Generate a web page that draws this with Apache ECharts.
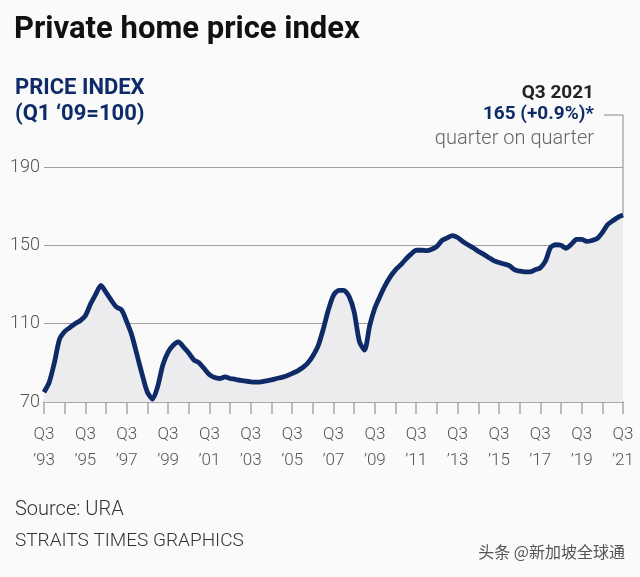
<!DOCTYPE html>
<html>
<head>
<meta charset="utf-8">
<script src="https://cdn.jsdelivr.net/npm/echarts@6/dist/echarts.min.js"></script>
<style>
html,body{margin:0;padding:0;background:#fafafa;}
#c{width:640px;height:577px;}
</style>
</head>
<body>
<div id="c"></div>
<script>
// Quarterly categories Q3 1993 .. Q3 2021
var startYear = 1993, startQ = 3, nQuarters = 113;
var quarters = [];
(function(){
  var y = startYear, q = startQ;
  for (var i = 0; i < nQuarters; i++) {
    quarters.push('Q' + q + ' ' + y);
    q++; if (q > 4) { q = 1; y++; }
  }
})();

// Private home price index (Q1 '09 = 100)
var priceIndex = [
  75, 80, 90, 102, 106, 108, 110, 111.5, 114, 120,           // Q3'93 - Q4'95
  125, 129.5, 126, 122, 118.5, 117, 111, 104, 94, 84,        // Q1'96 - Q2'98
  75, 71.5, 78, 89, 95.5, 99, 100.7, 98, 95, 91.5,           // Q3'98 - Q4'00
  90, 87, 84, 82.5, 82, 82.8, 82, 81.6, 81, 80.6,            // Q1'01 - Q2'03
  80.3, 80.2, 80.3, 80.8, 81.3, 82, 82.6, 83.4, 84.6, 85.8,  // Q3'03 - Q4'05
  87.5, 89.8, 93.5, 98.5, 107, 117, 124.5, 127, 127, 124,    // Q1'06 - Q2'08
  116, 101, 96.5, 109, 118, 124, 129.5, 134, 137.5, 140,     // Q3'08 - Q4'10
  143, 145.5, 147.5, 147.5, 147.3, 148, 149.5, 152.5, 153.8, 155, // Q1'11 - Q2'13
  154, 152, 150.3, 148.8, 147, 145.5, 143.8, 142.2, 141.2, 140.5, // Q3'13 - Q4'15
  139.6, 137.6, 136.8, 136.5, 136.4, 137.5, 138.5, 142, 149, 150.3, // Q1'16 - Q2'18
  150, 148.5, 150.5, 153, 153, 152, 152.5, 153.5, 156.5, 160.5, // Q3'18 - Q4'20
  162.5, 164.3, 165.5                                         // Q1'21 - Q3'21
];

var yTicks = [70, 110, 150, 190];
var titleText = 'Private home price index';
var unitLine1 = 'PRICE INDEX';
var unitLine2 = '(Q1 \u201809=100)';
var noteLine1 = 'Q3 2021';
var noteLine2 = '165 (+0.9%)*';
var noteLine3 = 'quarter on quarter';
var sourceText = 'Source: URA';
var creditText = 'STRAITS TIMES GRAPHICS';
var watermark = '\u5934\u6761 @\u65b0\u52a0\u5761\u5168\u7403\u901a';

var navy = '#0e2b68';
var font = 'Roboto, "Noto Sans", sans-serif';

var chart = echarts.init(document.getElementById('c'), null, {renderer: 'canvas'});

function labelFor(cat) {
  var p = cat.split(' ');
  return p[0] + '\n\u2019' + p[1].slice(2);
}

var option = {
  backgroundColor: '#fafafa',
  animation: false,
  grid: {left: 44, right: 17, top: 167, bottom: 175, containLabel: false},
  xAxis: {
    type: 'category',
    data: quarters,
    boundaryGap: false,
    axisLine: {lineStyle: {color: '#a8a8a8', width: 2}},
    axisTick: {interval: 3, length: 12, lineStyle: {color: '#a8a8a8', width: 1.5}},
    axisLabel: {
      interval: 7, margin: 20, color: '#555', fontSize: 17, lineHeight: 26,
      fontFamily: font, fontWeight: 300,
      formatter: function (v) { return labelFor(v); }
    },
    splitLine: {show: false}
  },
  yAxis: {
    type: 'value',
    min: yTicks[0], max: yTicks[yTicks.length - 1], interval: 40,
    axisLine: {show: false},
    axisTick: {show: false},
    axisLabel: {margin: 4, color: '#555', fontSize: 18, fontFamily: font, fontWeight: 300},
    splitLine: {lineStyle: {color: '#a0a0a0', width: 1.2}}
  },
  series: [{
    type: 'line',
    data: priceIndex,
    smooth: 0.25,
    showSymbol: false,
    lineStyle: {color: navy, width: 4.8},
    areaStyle: {color: '#ececef', opacity: 1},
    z: 3
  }],
  graphic: [
    {type: 'text', left: 14, top: 15, style: {text: titleText, font: 'bold 31px ' + font, fill: '#111'}},
    {type: 'text', left: 15, top: 77, style: {text: unitLine1, font: 'bold 22px ' + font, fill: navy}},
    {type: 'text', left: 15, top: 103, style: {text: unitLine2, font: 'bold 22px ' + font, fill: navy}},
    {type: 'text', right: 46, top: 84, style: {text: noteLine1, font: 'bold 19px ' + font, fill: '#222'}},
    {type: 'text', right: 46, top: 105, style: {text: noteLine2, font: 'bold 19px ' + font, fill: navy}},
    {type: 'text', right: 46, top: 129, style: {text: noteLine3, font: '300 20px ' + font, fill: '#666'}},
    {type: 'text', left: 15, top: 500, style: {text: sourceText, font: '300 20px ' + font, fill: '#333'}},
    {type: 'text', left: 15, top: 532, style: {text: creditText, font: '300 19px ' + font, fill: '#333'}},
    {type: 'text', right: 15, top: 544, style: {text: watermark, font: '16px "Noto Sans CJK SC", sans-serif', fill: '#555'}}
  ]
};
chart.setOption(option);

// leader line from last data point up to annotation
var lastIdx = priceIndex.length - 1;
var pt = chart.convertToPixel({seriesIndex: 0}, [lastIdx, priceIndex[lastIdx]]);
var noteY = 115;
chart.setOption({
  graphic: [
    {type: 'polyline', id: 'leader', silent: true, z: 1,
     shape: {points: [[pt[0] - 19, noteY], [pt[0], noteY], [pt[0], pt[1]]]},
     style: {stroke: '#888', lineWidth: 1, fill: null}}
  ]
});
</script>
</body>
</html>
